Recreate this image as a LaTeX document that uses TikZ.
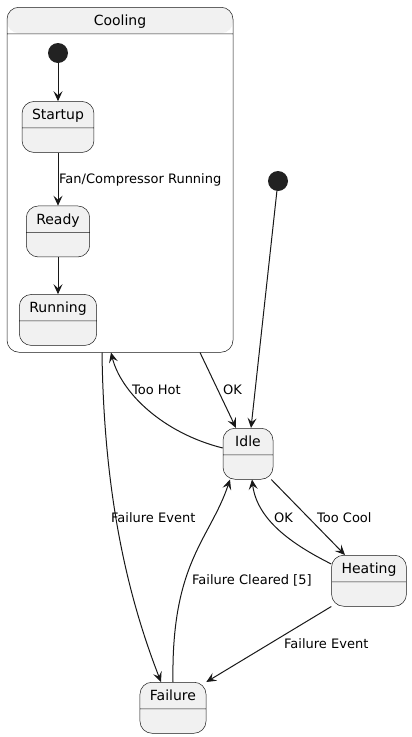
\documentclass[tikz,border=0pt]{standalone}
\usepackage{fontspec}
\setmainfont{DejaVu Sans}
\usetikzlibrary{arrows.meta, positioning, calc, shapes.multipart}
\definecolor{StateFill}{HTML}{F1F1F1}
\definecolor{StateLine}{HTML}{181818}
\definecolor{DotFill}{HTML}{222222}
% name part and empty lower part of a state box
\newcommand{\statebody}[2][24pt]{\rule[-8pt]{0pt}{26pt}#2\nodepart{two}\rule{0pt}{#1}}

\begin{document}
\begin{tikzpicture}[
    x=1pt, y=-1pt,
    flow/.style={-{Stealth[length=10pt, width=9pt, inset=4pt]}, line width=1pt, StateLine},
    stbox/.style={rectangle split, rectangle split parts=2, draw=StateLine, line width=0.5pt,
        fill=StateFill, rounded corners=12pt, inner xsep=10pt, inner ysep=0pt,
        minimum width=50pt, font=\fontsize{14}{16}\selectfont, anchor=north},
    compbox/.style={stbox, fill=white, path picture={\fill[StateFill]
        (path picture bounding box.north west) rectangle ([yshift=-26pt]path picture bounding box.north east);}},
    startdot/.style={circle, fill=DotFill, minimum size=20pt, inner sep=0pt},
    lbl/.style={font=\fontsize{13}{15}\selectfont, inner sep=0pt, anchor=base west},
]
\useasboundingbox[fill=white] (0,0) rectangle (412,737);

% composite state Cooling
\node[compbox, minimum width=226pt] (cooling) at (120,7) {\statebody[318pt]{Cooling}};

% inside Cooling
\node[startdot] (cinit) at (58,53) {};
\node[stbox, below=38pt of cinit] (startup) {\statebody{Startup}};
\node[stbox, below=53pt of startup] (ready) {\statebody{Ready}};
\node[stbox, below=37pt of ready] (running) {\statebody{Running}};

\draw[flow] (cinit) -- (startup.north);
\draw[flow] (startup.south) -- (ready.north);
\draw[flow] (ready.south) -- (running.north);
\node[lbl] (lfan) at (59,183) {Fan/Compressor Running};

% outer states
\node[startdot] (init) at (278,181) {};
\node[stbox] (idle) at (248,428) {\statebody{Idle}};
\node[stbox] (heating) at (369,555) {\statebody{Heating}};
\node[stbox] (failure) at (173,682) {\statebody{Failure}};

% transitions
\draw[flow] (init) -- ($(idle.north)+(3,0)$);
\draw[flow] ($(cooling.south)+(80,0)$) -- ($(idle.north)+(-12,0)$);
\draw[flow] ($(idle.north west)+(0,20)$) .. controls +(-60,-15) and +(10,40) .. ($(cooling.south)+(-9,0)$);
\draw[flow] ($(cooling.south)+(-18,0)$) .. controls +(2,150) and +(-31,-80) .. ($(failure.north)+(-12,0)$);
\draw[flow] (failure.north) .. controls +(-2,-120) and +(-20,60) .. ($(idle.south)+(-18,0)$);
\draw[flow] ($(idle.south east)+(-2,0)$) -- ($(heating.north)+(-24,0)$);
\draw[flow] ($(heating.north west)+(0,9)$) .. controls +(-40,-20) and +(5,40) .. ($(idle.south)+(4,0)$);
\draw[flow] (heating.south west) -- (failure.north east);

% labels
\node[lbl] (lok1) at (223,394) {OK};
\node[lbl] (lhot) at (132,394) {Too Hot};
\node[lbl] (lfail1) at (111,522) {Failure Event};
\node[lbl] (lok2) at (274,522) {OK};
\node[lbl] (lcool) at (317,522) {Too Cool};
\node[lbl] (lclear) at (192,584) {Failure Cleared [5]};
\node[lbl] (lfail2) at (284,648) {Failure Event};

\end{tikzpicture}
\end{document}
